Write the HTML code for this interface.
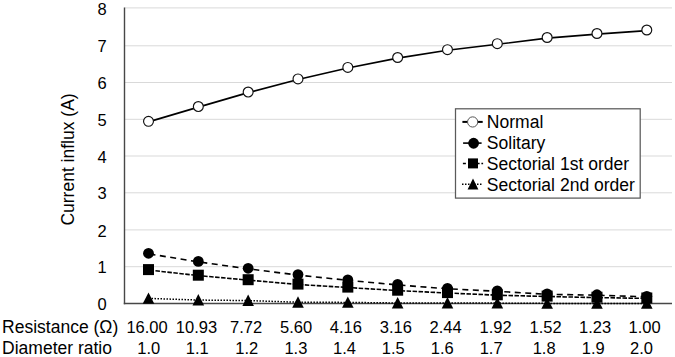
<!DOCTYPE html>
<html><head><meta charset="utf-8"><style>
html,body{margin:0;padding:0;background:#fff;}
body{width:675px;height:357px;overflow:hidden;}
svg{display:block;}
text{font-family:"Liberation Sans",sans-serif;fill:#000;}
.yt{font-size:16.5px;}
.lg{font-size:17.55px;}
.yl{font-size:17.5px;}
.bl{font-size:17.5px;}
.bn{font-size:16.5px;}
</style></head><body>
<svg width="675" height="357" viewBox="0 0 675 357">
<rect width="675" height="357" fill="#fff"/>
<line x1="124.5" y1="7.9" x2="672" y2="7.9" stroke="#d9d9d9" stroke-width="1"/>
<line x1="124.5" y1="45.8" x2="672" y2="45.8" stroke="#d9d9d9" stroke-width="1"/>
<line x1="124.5" y1="82.5" x2="672" y2="82.5" stroke="#d9d9d9" stroke-width="1"/>
<line x1="124.5" y1="119.3" x2="672" y2="119.3" stroke="#d9d9d9" stroke-width="1"/>
<line x1="124.5" y1="156.0" x2="672" y2="156.0" stroke="#d9d9d9" stroke-width="1"/>
<line x1="124.5" y1="192.8" x2="672" y2="192.8" stroke="#d9d9d9" stroke-width="1"/>
<line x1="124.5" y1="229.9" x2="672" y2="229.9" stroke="#d9d9d9" stroke-width="1"/>
<line x1="124.5" y1="266.7" x2="672" y2="266.7" stroke="#d9d9d9" stroke-width="1"/>
<line x1="124.5" y1="7.4" x2="124.5" y2="304.2" stroke="#474747" stroke-width="1.4"/>
<line x1="123.8" y1="303.5" x2="672" y2="303.5" stroke="#474747" stroke-width="1.4"/>
<text x="106.6" y="14.5" text-anchor="end" class="yt">8</text>
<text x="106.6" y="52.4" text-anchor="end" class="yt">7</text>
<text x="106.6" y="89.1" text-anchor="end" class="yt">6</text>
<text x="106.6" y="125.9" text-anchor="end" class="yt">5</text>
<text x="106.6" y="162.6" text-anchor="end" class="yt">4</text>
<text x="106.6" y="199.4" text-anchor="end" class="yt">3</text>
<text x="106.6" y="236.5" text-anchor="end" class="yt">2</text>
<text x="106.6" y="273.3" text-anchor="end" class="yt">1</text>
<text x="106.6" y="310.1" text-anchor="end" class="yt">0</text>
<polyline points="148.50,298.40 198.33,300.05 248.16,300.55 297.99,302.25 347.82,302.40 397.65,303.00 447.48,303.00 497.31,303.10 547.14,303.40 596.97,303.40 646.80,303.40" fill="none" stroke="#000" stroke-width="1.5" stroke-dasharray="1.5 1.5"/>
<polyline points="148.50,270.00 198.33,275.60 248.16,280.10 297.99,284.50 347.82,287.50 397.65,290.60 447.48,293.00 497.31,295.20 547.14,296.50 596.97,297.60 646.80,298.40" fill="none" stroke="#000" stroke-width="1.6" stroke-dasharray="4.5 1.5" stroke-dashoffset="-1"/>
<polyline points="148.50,253.80 198.33,261.90 248.16,268.80 297.99,275.10 347.82,280.30 397.65,284.90 447.48,288.80 497.31,291.30 547.14,294.30 596.97,295.20 646.80,296.80" fill="none" stroke="#000" stroke-width="1.6" stroke-dasharray="6 4.5" stroke-dashoffset="-1"/>
<polyline points="148.50,121.90 198.33,107.10 248.16,92.60 297.99,79.50 347.82,68.00 397.65,58.10 447.48,50.30 497.31,44.30 547.14,38.10 596.97,34.10 646.80,30.60" fill="none" stroke="#000" stroke-width="1.65"/>
<polygon points="148.50,292.40 154.30,303.80 142.70,303.80" fill="#000"/>
<polygon points="198.33,294.05 204.13,305.45 192.53,305.45" fill="#000"/>
<polygon points="248.16,294.55 253.96,305.95 242.36,305.95" fill="#000"/>
<polygon points="297.99,296.25 303.79,307.65 292.19,307.65" fill="#000"/>
<polygon points="347.82,296.40 353.62,307.80 342.02,307.80" fill="#000"/>
<polygon points="397.65,297.00 403.45,308.40 391.85,308.40" fill="#000"/>
<polygon points="447.48,297.00 453.28,308.40 441.68,308.40" fill="#000"/>
<polygon points="497.31,297.10 503.11,308.50 491.51,308.50" fill="#000"/>
<polygon points="547.14,297.40 552.94,308.80 541.34,308.80" fill="#000"/>
<polygon points="596.97,297.40 602.77,308.80 591.17,308.80" fill="#000"/>
<polygon points="646.80,297.40 652.60,308.80 641.00,308.80" fill="#000"/>
<rect x="143.00" y="264.10" width="11" height="11" fill="#000"/>
<rect x="192.83" y="269.70" width="11" height="11" fill="#000"/>
<rect x="242.66" y="274.20" width="11" height="11" fill="#000"/>
<rect x="292.49" y="278.60" width="11" height="11" fill="#000"/>
<rect x="342.32" y="281.60" width="11" height="11" fill="#000"/>
<rect x="392.15" y="284.70" width="11" height="11" fill="#000"/>
<rect x="441.98" y="287.10" width="11" height="11" fill="#000"/>
<rect x="491.81" y="289.30" width="11" height="11" fill="#000"/>
<rect x="541.64" y="290.60" width="11" height="11" fill="#000"/>
<rect x="591.47" y="291.70" width="11" height="11" fill="#000"/>
<rect x="641.30" y="292.50" width="11" height="11" fill="#000"/>
<circle cx="148.50" cy="253.30" r="5.4" fill="#000"/>
<circle cx="198.33" cy="261.40" r="5.4" fill="#000"/>
<circle cx="248.16" cy="268.30" r="5.4" fill="#000"/>
<circle cx="297.99" cy="274.60" r="5.4" fill="#000"/>
<circle cx="347.82" cy="279.80" r="5.4" fill="#000"/>
<circle cx="397.65" cy="284.40" r="5.4" fill="#000"/>
<circle cx="447.48" cy="288.30" r="5.4" fill="#000"/>
<circle cx="497.31" cy="290.80" r="5.4" fill="#000"/>
<circle cx="547.14" cy="293.80" r="5.4" fill="#000"/>
<circle cx="596.97" cy="294.70" r="5.4" fill="#000"/>
<circle cx="646.80" cy="296.30" r="5.4" fill="#000"/>
<circle cx="148.50" cy="121.30" r="4.95" fill="#fff" stroke="#111" stroke-width="1.15"/>
<circle cx="198.33" cy="106.50" r="4.95" fill="#fff" stroke="#111" stroke-width="1.15"/>
<circle cx="248.16" cy="92.00" r="4.95" fill="#fff" stroke="#111" stroke-width="1.15"/>
<circle cx="297.99" cy="78.90" r="4.95" fill="#fff" stroke="#111" stroke-width="1.15"/>
<circle cx="347.82" cy="67.40" r="4.95" fill="#fff" stroke="#111" stroke-width="1.15"/>
<circle cx="397.65" cy="57.50" r="4.95" fill="#fff" stroke="#111" stroke-width="1.15"/>
<circle cx="447.48" cy="49.70" r="4.95" fill="#fff" stroke="#111" stroke-width="1.15"/>
<circle cx="497.31" cy="43.70" r="4.95" fill="#fff" stroke="#111" stroke-width="1.15"/>
<circle cx="547.14" cy="37.50" r="4.95" fill="#fff" stroke="#111" stroke-width="1.15"/>
<circle cx="596.97" cy="33.50" r="4.95" fill="#fff" stroke="#111" stroke-width="1.15"/>
<circle cx="646.80" cy="30.00" r="4.95" fill="#fff" stroke="#111" stroke-width="1.15"/>
<rect x="455.5" y="108.8" width="184.7" height="89.3" fill="#fff" stroke="#5a5a5a" stroke-width="1.25"/>
<line x1="462.4" y1="121.9" x2="482.7" y2="121.9" stroke="#000" stroke-width="2"/>
<circle cx="472.65" cy="121.95" r="5.1" fill="#fff" stroke="#555" stroke-width="1"/>
<line x1="463.1" y1="143.1" x2="481.6" y2="143.1" stroke="#000" stroke-width="1.6"/>
<circle cx="473.6" cy="143.25" r="5.4" fill="#000"/>
<path d="M462.9 163.5H465.9M478 163.5H479.6M481.4 163.5H483.1" stroke="#000" stroke-width="1.6"/>
<rect x="468" y="158.4" width="10" height="10" fill="#000"/>
<line x1="462" y1="184.3" x2="482.5" y2="184.3" stroke="#000" stroke-width="1.4" stroke-dasharray="1.5 1.5"/>
<polygon points="473,178.6 478.4,189.5 467.6,189.5" fill="#000"/>
<text x="486.8" y="127.8" class="lg">Normal</text>
<text x="486.8" y="148.7" class="lg">Solitary</text>
<text x="486.8" y="169.6" class="lg">Sectorial 1st order</text>
<text x="486.8" y="190.5" class="lg">Sectorial 2nd order</text>
<text transform="translate(73.6,225.6) rotate(-90)" class="yl">Current influx (A)</text>
<text x="2.1" y="333.1" class="bl">Resistance (Ω)</text>
<text x="2.1" y="353.7" class="bl">Diameter ratio</text>
<text x="147.1" y="333.2" text-anchor="middle" class="bn">16.00</text>
<text x="196.5" y="333.2" text-anchor="middle" class="bn">10.93</text>
<text x="246.1" y="333.2" text-anchor="middle" class="bn">7.72</text>
<text x="296.1" y="333.2" text-anchor="middle" class="bn">5.60</text>
<text x="345.8" y="333.2" text-anchor="middle" class="bn">4.16</text>
<text x="395.9" y="333.2" text-anchor="middle" class="bn">3.16</text>
<text x="445.6" y="333.2" text-anchor="middle" class="bn">2.44</text>
<text x="495.6" y="333.2" text-anchor="middle" class="bn">1.92</text>
<text x="545.6" y="333.2" text-anchor="middle" class="bn">1.52</text>
<text x="595.1" y="333.2" text-anchor="middle" class="bn">1.23</text>
<text x="644.6" y="333.2" text-anchor="middle" class="bn">1.00</text>
<text x="148.7" y="353.6" text-anchor="middle" class="bn">1.0</text>
<text x="197.3" y="353.6" text-anchor="middle" class="bn">1.1</text>
<text x="246.7" y="353.6" text-anchor="middle" class="bn">1.2</text>
<text x="295.9" y="353.6" text-anchor="middle" class="bn">1.3</text>
<text x="344.5" y="353.6" text-anchor="middle" class="bn">1.4</text>
<text x="393.3" y="353.6" text-anchor="middle" class="bn">1.5</text>
<text x="442.2" y="353.6" text-anchor="middle" class="bn">1.6</text>
<text x="491.1" y="353.6" text-anchor="middle" class="bn">1.7</text>
<text x="544.1" y="353.6" text-anchor="middle" class="bn">1.8</text>
<text x="593.3" y="353.6" text-anchor="middle" class="bn">1.9</text>
<text x="641.5" y="353.6" text-anchor="middle" class="bn">2.0</text>
</svg>
</body></html>
